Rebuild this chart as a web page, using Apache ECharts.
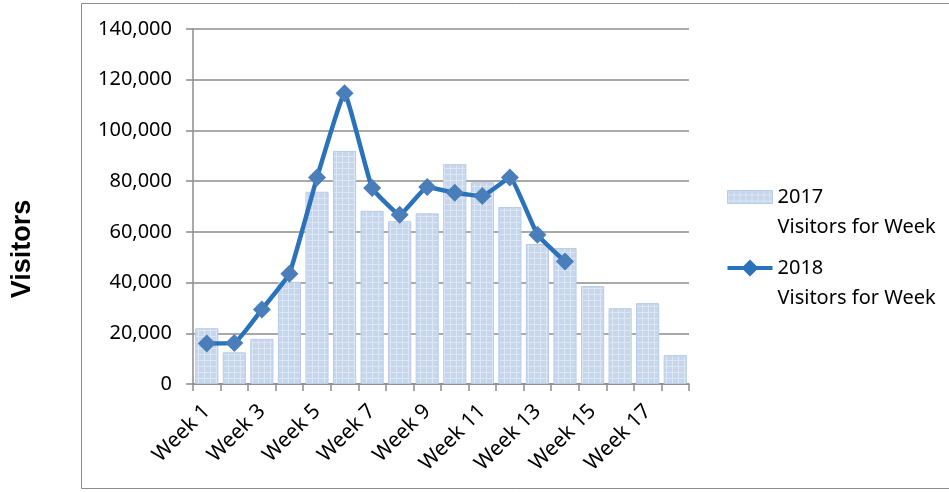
<!DOCTYPE html>
<html>
<head>
    <meta charset="utf-8">
    <title>Visitors for Week</title>
    <style>
        html, body { margin: 0; padding: 0; background: #fff; }
    </style>
</head>
<body>
    <div id="main" style="width: 949px; height: 492px;"></div>
    <script src="https://cdn.jsdelivr.net/npm/echarts@6/dist/echarts.min.js"></script>
    <script type="text/javascript">
        // data
        var weeks = ['Week 1', 'Week 2', 'Week 3', 'Week 4', 'Week 5', 'Week 6', 'Week 7', 'Week 8', 'Week 9',
            'Week 10', 'Week 11', 'Week 12', 'Week 13', 'Week 14', 'Week 15', 'Week 16', 'Week 17', 'Week 18'];
        var visitors2017 = [22000, 12500, 17800, 40300, 75800, 91900, 68300, 64200, 67300,
            86700, 79600, 69800, 55200, 53600, 38600, 29900, 31900, 11400];
        var visitors2018 = [16000, 16200, 29400, 43500, 81400, 114700, 77300, 66700, 77700,
            75400, 74100, 81400, 58900, 48300];
        var name2017 = '2017\nVisitors for Week';
        var name2018 = '2018\nVisitors for Week';

        // small grid pattern to mimic the Excel bar fill
        function gridPattern() {
            var c = document.createElement('canvas');
            c.width = 6; c.height = 6;
            var ctx = c.getContext('2d');
            ctx.fillStyle = '#c6d6ec';
            ctx.fillRect(0, 0, 6, 6);
            ctx.fillStyle = '#dde7f4';
            ctx.fillRect(0, 0, 6, 1);
            ctx.fillRect(0, 0, 1, 6);
            return c;
        }

        var chartDom = document.getElementById('main');
        var myChart = echarts.init(chartDom);
        var font = 'Noto Sans';
        var barFill = { image: gridPattern(), repeat: 'repeat' };

        // legend icons: a shorter swatch for the bars, line with a big diamond for 2018
        var barIcon = 'path://M0,0M45,17M0,2H45V15H0Z';
        var lineIcon = 'path://M0,6.5H16L22.5,0L29,6.5H45V10.5H29L22.5,17L16,10.5H0Z';

        var option = {
            animation: false,
            graphic: [{
                type: 'rect',
                shape: { x: 81.5, y: 3.5, width: 900, height: 485 },
                style: { fill: 'none', stroke: '#8c8c8c', lineWidth: 1 },
                silent: true
            }, {
                type: 'text',
                x: 23,
                y: 249,
                rotation: Math.PI / 2,
                style: {
                    text: 'Visitors',
                    fontFamily: 'Liberation Sans',
                    fontWeight: 'bold',
                    fontSize: 27,
                    fill: '#000',
                    align: 'center',
                    verticalAlign: 'middle'
                },
                silent: true
            }],
            grid: { left: 193, right: 260, top: 29, bottom: 108 },
            legend: {
                orient: 'vertical',
                left: 722,
                top: 147,
                itemGap: -19,
                itemWidth: 45,
                itemHeight: 17,
                // leading blank line keeps the icon level with the year line, as in Excel
                formatter: function (name) { return '\n' + name; },
                textStyle: { fontFamily: font, fontSize: 20, color: '#000', lineHeight: 30 },
                data: [
                    { name: name2017, icon: barIcon, itemStyle: { color: barFill, borderColor: '#b9cce6', borderWidth: 1 } },
                    { name: name2018, icon: lineIcon, itemStyle: { color: '#2a72ba', borderWidth: 0 } }
                ]
            },
            xAxis: {
                type: 'category',
                data: weeks,
                axisLine: { lineStyle: { color: '#8c8c8c', width: 1.5 } },
                axisTick: { show: true, length: 7, alignWithLabel: false, interval: 0, lineStyle: { color: '#8c8c8c', width: 1.5 } },
                axisLabel: { interval: 1, rotate: 45, margin: 24, fontFamily: font, fontSize: 21, color: '#000' }
            },
            yAxis: {
                type: 'value',
                min: 0,
                max: 140000,
                interval: 20000,
                axisLine: { show: true, lineStyle: { color: '#8c8c8c', width: 1.5 } },
                axisTick: { show: true, length: 7, lineStyle: { color: '#8c8c8c', width: 1.5 } },
                splitLine: { lineStyle: { color: '#8c8c8c', width: 1.5 } },
                axisLabel: {
                    margin: 21,
                    fontFamily: font,
                    fontSize: 20,
                    color: '#000',
                    formatter: function (v) { return v.toLocaleString('en-US'); }
                }
            },
            series: [{
                name: name2017,
                type: 'bar',
                data: visitors2017,
                barCategoryGap: '16%',
                itemStyle: {
                    color: barFill,
                    borderColor: '#b9cce6',
                    borderWidth: 1
                }
            }, {
                name: name2018,
                type: 'line',
                data: visitors2018,
                smooth: 0.1,
                symbol: 'diamond',
                symbolSize: 18,
                lineStyle: { color: '#2a72ba', width: 4.5 },
                itemStyle: { color: '#4a7ebb' },
                z: 3
            }]
        };
        myChart.setOption(option);
    </script>
</body>
</html>
